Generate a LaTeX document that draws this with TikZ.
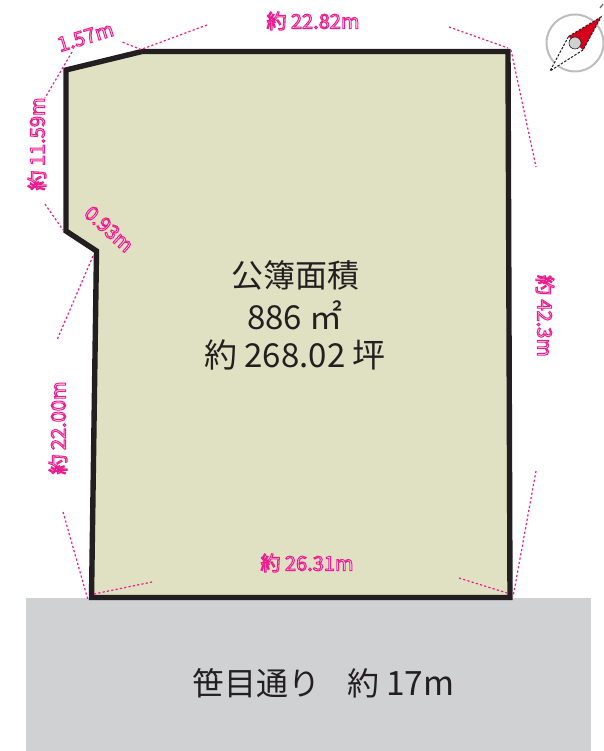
\documentclass[tikz,border=0pt]{standalone}
\usepackage{fontspec}
\setmainfont{Noto Sans CJK JP}
\newfontfamily\outl[FakeBold=5]{Noto Sans CJK JP}
\definecolor{lot}{HTML}{E0E0C3}
\definecolor{road}{HTML}{D0D1D3}
\definecolor{ink}{HTML}{231F20}
\definecolor{dim}{HTML}{EC1C8E}
\definecolor{needle}{HTML}{D6001C}
\definecolor{ring}{HTML}{BDBDBD}
\newcommand{\pinktext}[1]{\color{white}\outl\special{pdf:code 0.925 0.11 0.557 RG}#1}
\tikzset{
  x=1pt,y=-1pt,
  dimline/.style={draw=dim,line width=1.2pt,dash pattern=on 2.2pt off 2.2pt},
  dimlabel/.style={inner sep=0pt,font=\fontsize{20}{20}\selectfont},
  areatext/.style={inner sep=0pt,text=ink,font=\fontsize{32}{32}\selectfont},
  numtext/.style={inner sep=0pt,text=ink,font=\fontsize{33}{33}\selectfont},
}
\begin{document}
\begin{tikzpicture}
\useasboundingbox (0,0) rectangle (603,751);
\fill[road] (26,598) rectangle (591,751);
\draw[ink,line width=5.4pt,fill=lot,miter limit=10] (66,70) -- (142,51.5) -- (508,51.5) -- (510,597.5) -- (91.5,597.5) -- (96.5,251) -- (66,231) -- cycle;
% dimension lines
\draw[dimline] (207,25) -- (141,49.5) -- (122,42);
\draw[dimline] (72,52) -- (45,98);
\draw[dimline] (45,204) -- (63,230);
\draw[dimline] (93,256) -- (57,340);
\draw[dimline] (63,512) -- (88,600);
\draw[dimline] (94,594) -- (152,582);
\draw[dimline] (459,578) -- (507,593);
\draw[dimline] (536,471) -- (513,597);
\draw[dimline] (449,27) -- (508,48);
\draw[dimline] (511,50) -- (536,167);
% labels
\node[dimlabel,rotate=17] (d1) at (85.5,37) {\pinktext{1.57m}};
\node[dimlabel] (d2) at (313,21) {\pinktext{約 22.82m}};
\node[dimlabel,rotate=90] (d3) at (37,144) {\pinktext{約 11.59m}};
\node[dimlabel,rotate=-42] (d4) at (109,229) {\pinktext{0.93m}};
\node[dimlabel,rotate=-90] (d5) at (545,316) {\pinktext{約 42.3m}};
\node[dimlabel,rotate=90] (d6) at (58,428) {\pinktext{約 22.00m}};
\node[dimlabel] (d7) at (307,563) {\pinktext{約 26.31m}};
% centre text
\node[areatext] (t1) at (295,275) {公簿面積};
\node[numtext] (t2) at (295,315) {886 ㎡};
\node[numtext] (t3) at (295,355) {約 268.02 坪};
\node[areatext,anchor=west] (t4) at (192,683) {笹目通り\hspace{27pt}約 {\fontsize{33.5}{33.5}\selectfont 17m}};
% compass
\draw[ring,line width=2pt] (575,43) circle (28.5);
\fill[white] (568.5,36.5) -- (583,50) -- (550,71) -- cycle;
\draw[ink,line width=1pt,dash pattern=on 2.5pt off 1.5pt] (568.5,36.5) -- (550,71) -- (583,50);
\fill[needle] (568.5,36.5) -- (601,17) -- (583,50) -- cycle;
\draw[ink,line width=1pt,dash pattern=on 2.5pt off 1.5pt] (568.5,36.5) -- (601,17) -- (583,50);
\fill[road,draw=ink,line width=.6pt] (575,43) circle (6);
\draw[ink!70,line width=1.2pt] (600,8) -- (603,4);
\end{tikzpicture}
\end{document}
